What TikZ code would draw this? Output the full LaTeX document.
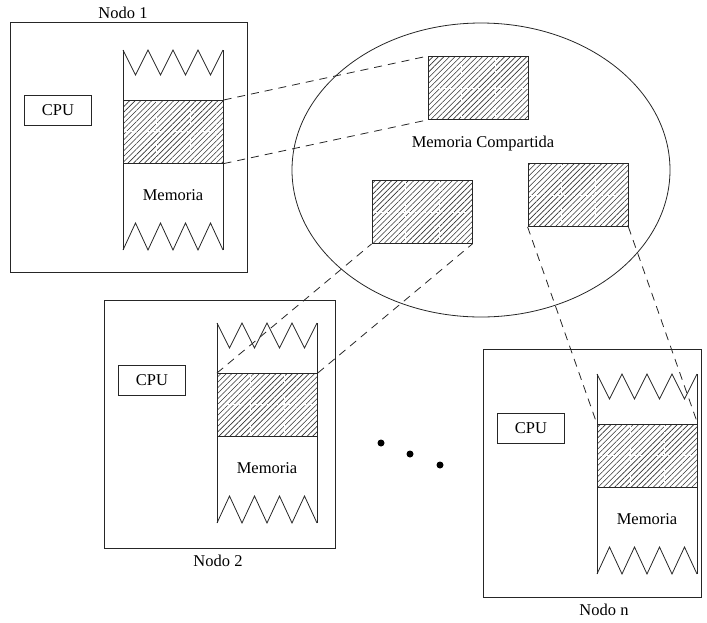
\documentclass[tikz,border=0pt]{standalone}
\usepackage{fontspec}
\setmainfont{Liberation Serif}
\usetikzlibrary{patterns.meta,shapes.geometric}
\begin{document}
\begin{tikzpicture}[x=1pt,y=-1pt,
  every node/.style={font=\fontsize{16.5}{20}\selectfont},
  line/.style={draw=black!85,line width=0.8pt},
  nodebox/.style={line,rectangle,inner sep=0pt,anchor=north west},
  cpubox/.style={line,rectangle,inner sep=0pt,anchor=north west,minimum width=67pt,minimum height=30pt},
  hatchbox/.style={line,rectangle,inner sep=0pt,minimum width=100pt,minimum height=63pt,
    pattern={Lines[angle=45,distance=3.9pt,line width=0.6pt]},pattern color=black!80},
  grid/.style={draw=white,line width=0.4pt,dash pattern=on 4pt off 3pt},
  conn/.style={draw=black!85,line width=0.8pt,dash pattern=on 8pt off 6pt},
  memcol/.pic={
    \draw[line] (0,0) -- (0,200);
    \draw[line] (100,0) -- (100,200);
    \draw[line] (0,0) -- (12.5,25) -- (25,0) -- (37.5,25) -- (50,0) -- (62.5,25) -- (75,0) -- (87.5,25) -- (100,0);
    \draw[line] (0,200) -- (12.5,173) -- (25,200) -- (37.5,173) -- (50,200) -- (62.5,173) -- (75,200) -- (87.5,173) -- (100,200);
    \node[hatchbox,anchor=north west] (-h) at (0,50) {};
    \draw[grid] (33,51) -- (33,112) (67,51) -- (67,112) (1,81.5) -- (99,81.5);
    \node (-lbl) at (50,145) {Memoria};
  }]
\useasboundingbox (0,0) rectangle (707,622);

% Node 1
\node[nodebox,minimum width=237pt,minimum height=250pt] (n1) at (10,22) {};
\node (n1lbl) at (123,13) {Nodo 1};
\node[cpubox] (cpu1) at (24,95) {CPU};
\pic (m1) at (123,50) {memcol};

% Node 2
\node[nodebox,minimum width=231pt,minimum height=248pt] (n2) at (104,300) {};
\node (n2lbl) at (218,561) {Nodo 2};
\node[cpubox] (cpu2) at (118,365) {CPU};
\pic (m2) at (217,323) {memcol};

% Node n
\node[nodebox,minimum width=218pt,minimum height=248pt] (nn) at (483,349) {};
\node (nnlbl) at (604,610) {Nodo n};
\node[cpubox] (cpun) at (497,413) {CPU};
\pic (mn) at (597,374) {memcol};

% Shared memory
\node[line,ellipse,minimum width=378pt,minimum height=294pt,inner sep=0pt] (shm) at (481,170) {};
\node (shmlbl) at (483,144) {Memoria Compartida};
\node[hatchbox] (sA) at (478,88) {};
\draw[grid] (sA.north)++(-17,1) -- ++(0,61) (sA.north)++(17,1) -- ++(0,61) (sA.west)++(1,0) -- (sA.east);
\node[hatchbox] (sB) at (422,212) {};
\draw[grid] (sB.north)++(-17,1) -- ++(0,61) (sB.north)++(17,1) -- ++(0,61) (sB.west)++(1,0) -- (sB.east);
\node[hatchbox] (sC) at (578,195) {};
\draw[grid] (sC.north)++(-17,1) -- ++(0,61) (sC.north)++(17,1) -- ++(0,61) (sC.west)++(1,0) -- (sC.east);

% connectors
\draw[conn] (m1-h.north east) -- (sA.north west);
\draw[conn] (m1-h.south east) -- (sA.south west);
\draw[conn] (m2-h.north west) -- (sB.south west);
\draw[conn] (m2-h.north east) -- (sB.south east);
\draw[conn] (sC.south west) -- (mn-h.north west);
\draw[conn] (sC.south east) -- (mn-h.north east);

% dots
\fill (381,443) circle (3.5) (410,454) circle (3.5) (440,465) circle (3.5);
\end{tikzpicture}
\end{document}
